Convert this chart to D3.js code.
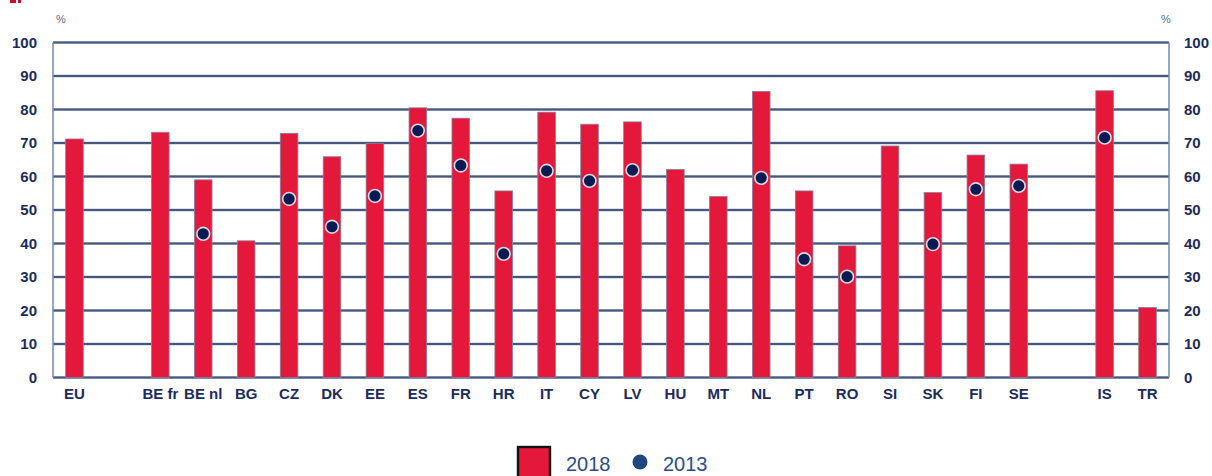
<!DOCTYPE html>
<html>
<head>
<meta charset="utf-8">
<script src="https://cdn.jsdelivr.net/npm/d3@7"></script>
<style>
  html, body { margin: 0; padding: 0; background: #ffffff; }
  svg { display: block; font-family: "Liberation Sans", Arial, sans-serif; }
</style>
</head>
<body>
<svg id="chart" width="1212" height="476"></svg>
<script>
// Country slots; empty strings are spacer slots between groups
const slots = ["EU", "", "BE fr", "BE nl", "BG", "CZ", "DK", "EE", "ES", "FR", "HR", "IT", "CY", "LV",
  "HU", "MT", "NL", "PT", "RO", "SI", "SK", "FI", "SE", " ", "IS", "TR"];
const countries = ["EU", "BE fr", "BE nl", "BG", "CZ", "DK", "EE", "ES", "FR", "HR", "IT", "CY", "LV",
  "HU", "MT", "NL", "PT", "RO", "SI", "SK", "FI", "SE", "IS", "TR"];
// Share in 2018 (bars), %
const values2018 = [71.2, 73.2, 59.0, 40.8, 72.9, 65.9, 69.9, 80.5, 77.4, 55.7, 79.2, 75.6, 76.3,
  62.1, 54.0, 85.4, 55.7, 39.3, 69.1, 55.2, 66.4, 63.7, 85.6, 20.9];
// Share in 2013 (dots), % ; null where not available
const values2013 = [null, null, 42.9, null, 53.3, 45.0, 54.2, 73.7, 63.3, 36.9, 61.7, 58.7, 61.9,
  null, null, 59.6, 35.3, 30.1, null, 39.8, 56.2, 57.2, 71.6, null];
const yTicks = [0, 10, 20, 30, 40, 50, 60, 70, 80, 90, 100];
const seriesNames = ["2018", "2013"];

const svg = d3.select("#chart");
const plotLeft = 53, plotRight = 1169, plotTop = 42.5, plotBottom = 377.5;

const x = d3.scaleBand().domain(slots).range([plotLeft, plotRight]).paddingInner(0.59).paddingOuter(0.295);
const y = d3.scaleLinear().domain([0, 100]).range([plotBottom, plotTop]);

const navy = "#1c2b5c";

// small red mark in the top-left corner
svg.append("rect").attr("x", 10).attr("y", 0).attr("width", 6).attr("height", 3).attr("fill", "#c8102e");
svg.append("rect").attr("x", 18).attr("y", 0).attr("width", 3).attr("height", 3).attr("fill", "#c8102e");

// horizontal gridlines
const grid = svg.append("g");
grid.selectAll("line.halo").data(yTicks).join("line")
  .attr("x1", plotLeft).attr("x2", plotRight)
  .attr("y1", d => y(d)).attr("y2", d => y(d))
  .attr("stroke", "#b8c2d6").attr("stroke-width", 3.2);
grid.selectAll("line.main").data(yTicks).join("line")
  .attr("x1", plotLeft).attr("x2", plotRight)
  .attr("y1", d => y(d)).attr("y2", d => y(d))
  .attr("stroke", "#46577b").attr("stroke-width", 1.8);

// vertical frame lines
[plotLeft, plotRight].forEach(px => {
  svg.append("line").attr("x1", px).attr("x2", px).attr("y1", y(100)).attr("y2", y(0))
    .attr("stroke", "#7f8fb0").attr("stroke-width", 1.6);
});

// left and right value axes
const axisL = d3.axisLeft(y).tickValues(yTicks).tickSize(0).tickPadding(16);
const axisR = d3.axisRight(y).tickValues(yTicks).tickSize(0).tickPadding(15);
[[axisL, plotLeft], [axisR, plotRight]].forEach(([ax, px]) => {
  const g = svg.append("g").attr("transform", `translate(${px},0)`).call(ax);
  g.select(".domain").remove();
  g.selectAll("text").attr("font-size", 15).attr("font-weight", "bold")
    .attr("fill", navy).attr("font-family", "Liberation Sans, Arial, sans-serif");
});

// % unit labels
svg.append("text").attr("x", 61).attr("y", 23).attr("text-anchor", "middle")
  .attr("font-size", 11).attr("fill", "#5a6a8c").text("%");
svg.append("text").attr("x", 1166).attr("y", 23).attr("text-anchor", "middle")
  .attr("font-size", 11).attr("fill", "#5a6a8c").text("%");

// bars (2018)
const rows = countries.map((c, i) => ({ c, v18: values2018[i], v13: values2013[i] }));
svg.append("g").selectAll("rect").data(rows).join("rect")
  .attr("x", d => x(d.c)).attr("width", x.bandwidth())
  .attr("y", d => y(d.v18)).attr("height", d => y(0) - y(d.v18))
  .attr("fill", "#e3183a").attr("stroke", "#8a7f9c").attr("stroke-width", 0.8);

// dots (2013)
svg.append("g").selectAll("circle").data(rows.filter(d => d.v13 !== null)).join("circle")
  .attr("cx", d => x(d.c) + x.bandwidth() / 2).attr("cy", d => y(d.v13))
  .attr("r", 6.4).attr("fill", "#0b1b52").attr("stroke", "#d7dbe6").attr("stroke-width", 1.6);

// category axis
const axisB = d3.axisBottom(x).tickSize(0).tickPadding(11);
const gb = svg.append("g").attr("transform", `translate(0,${plotBottom})`).call(axisB);
gb.select(".domain").remove();
gb.selectAll("text").attr("font-size", 15).attr("font-weight", "bold")
  .attr("fill", navy).attr("font-family", "Liberation Sans, Arial, sans-serif");

// legend
const lg = svg.append("g");
lg.append("rect").attr("x", 518).attr("y", 447).attr("width", 32).attr("height", 32)
  .attr("fill", "#e3183a").attr("stroke", "#111111").attr("stroke-width", 2.4);
lg.append("text").attr("x", 566).attr("y", 471).attr("font-size", 20).attr("fill", "#2c4d84")
  .text(seriesNames[0]);
lg.append("circle").attr("cx", 640).attr("cy", 462).attr("r", 7.5).attr("fill", "#1f467e");
lg.append("text").attr("x", 663).attr("y", 471).attr("font-size", 20).attr("fill", "#2c4d84")
  .text(seriesNames[1]);
</script>
</body>
</html>
